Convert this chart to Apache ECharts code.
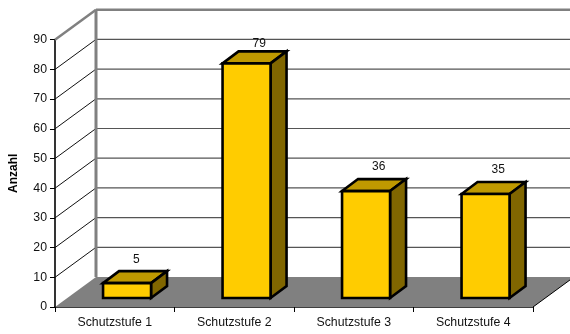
<!DOCTYPE html>
<html>
<head>
<meta charset="utf-8">
<style>html,body{margin:0;padding:0;background:#fff}#c{width:570px;height:334px}</style>
<script src="https://cdn.jsdelivr.net/npm/echarts@6/dist/echarts.min.js"></script>
</head>
<body>
<div id="c"></div>
<script>
const categories = ['Schutzstufe 1', 'Schutzstufe 2', 'Schutzstufe 3', 'Schutzstufe 4'];
const counts = [5, 79, 36, 35];
const gridValues = [0, 10, 20, 30, 40, 50, 60, 70, 80, 90];
const axisName = 'Anzahl';

// Oblique projection of the box: how far the back plane sits from the front plane
const DX = 41, DY = -30;
// Bars stand 30% of the way into the box
const DEPTH = 0.3;
const BAR_W = 48, BAR_DX = 16, BAR_DY = -12;
const FONT = '"Liberation Sans", Arial, sans-serif';
const labelLift = [23, 20, 24, 24];

const chart = echarts.init(document.getElementById('c'), null, { renderer: 'canvas' });

// Floor, side wall and back wall, drawn behind the bars
function renderBox(params, api) {
  const y = api.value(0);
  const p = api.coord([0, y]);
  const left = params.coordSys.x, right = left + params.coordSys.width;
  const children = [];
  if (params.dataIndex === 0) {
    const b = api.coord([0, 0])[1];
    children.push({
      type: 'polygon',
      shape: { points: [[left, b], [left + DX, b + DY], [right + DX, b + DY], [right, b]] },
      style: { fill: '#808080' }
    });
    children.push({
      type: 'line', shape: { x1: right, y1: b, x2: right + DX, y2: b + DY },
      style: { stroke: '#000', lineWidth: 1 }
    });
  }
  const top = y === 90;
  if (y > 0) {
    children.push({
      type: 'line', shape: { x1: left, y1: p[1], x2: left + DX, y2: p[1] + DY },
      style: { stroke: top ? '#808080' : '#111', lineWidth: top ? 2.5 : 1 }
    });
    children.push({
      type: 'line', shape: { x1: left + DX, y1: p[1] + DY, x2: right + DX, y2: p[1] + DY },
      style: { stroke: top ? '#808080' : '#555', lineWidth: top ? 2.5 : 1.2 }
    });
  }
  if (top) {
    const b = api.coord([0, 0])[1];
    children.push({
      type: 'line', shape: { x1: left + DX, y1: p[1] + DY, x2: left + DX, y2: b + DY },
      style: { stroke: '#808080', lineWidth: 3 }
    });
  }
  return { type: 'group', children };
}

// One bar with front, top and side faces, plus its value above the top face
function renderBar(params, api) {
  const idx = api.value(0);
  const v = api.value(1);
  const c = api.coord([idx, v]);
  const base = api.coord([idx, 0]);
  const x0 = c[0] - BAR_W / 2 + DX * DEPTH;
  const x1 = x0 + BAR_W;
  const yt = c[1] + DY * DEPTH;
  const yb = base[1] + DY * DEPTH;
  const edge = { stroke: '#000', lineWidth: 2.6, lineJoin: 'miter' };
  return {
    type: 'group',
    children: [
      { type: 'polygon',
        shape: { points: [[x0, yt], [x0 + BAR_DX, yt + BAR_DY], [x1 + BAR_DX, yt + BAR_DY], [x1, yt]] },
        style: Object.assign({ fill: '#BF9900' }, edge) },
      { type: 'polygon',
        shape: { points: [[x1, yt], [x1 + BAR_DX, yt + BAR_DY], [x1 + BAR_DX, yb + BAR_DY], [x1, yb]] },
        style: Object.assign({ fill: '#806600' }, edge) },
      { type: 'rect',
        shape: { x: x0, y: yt, width: BAR_W, height: yb - yt },
        style: Object.assign({ fill: '#FFCC00' }, edge) },
      { type: 'text',
        style: {
          x: c[0] + DX * DEPTH + 6, y: yt - labelLift[idx],
          text: String(v), align: 'left', verticalAlign: 'middle',
          fill: '#111', font: '12px ' + FONT
        } }
    ]
  };
}

chart.setOption({
  animation: false,
  backgroundColor: '#fff',
  grid: { left: 55, right: 37, top: 39.7, bottom: 27, outerBoundsMode: 'none' },
  xAxis: {
    type: 'category',
    data: categories,
    boundaryGap: true,
    axisLine: { lineStyle: { color: '#000', width: 1.6 } },
    axisTick: { show: true, alignWithLabel: false, length: 5, lineStyle: { color: '#000', width: 1 } },
    axisLabel: { color: '#111', fontFamily: FONT, fontSize: 12.3, margin: 10 },
    splitLine: { show: false }
  },
  yAxis: {
    type: 'value',
    min: 0, max: 90, interval: 10,
    name: axisName,
    nameLocation: 'middle',
    nameGap: 35,
    nameTextStyle: { color: '#000', fontFamily: FONT, fontSize: 12, fontWeight: 'bold' },
    axisLine: { show: true, lineStyle: { color: '#000', width: 1.6 } },
    axisTick: { show: true, length: 5, lineStyle: { color: '#000', width: 1 } },
    axisLabel: { color: '#111', fontFamily: FONT, fontSize: 12.3, margin: 8 },
    splitLine: { show: false }
  },
  series: [
    {
      type: 'custom', coordinateSystem: 'cartesian2d', clip: false, silent: true, z: 1,
      renderItem: renderBox,
      encode: { y: 0 },
      data: gridValues.map(v => [v])
    },
    {
      type: 'custom', coordinateSystem: 'cartesian2d', clip: false, silent: true, z: 3,
      renderItem: renderBar,
      encode: { x: 0, y: 1 },
      data: counts.map((v, i) => [i, v])
    }
  ]
});
</script>
</body>
</html>
